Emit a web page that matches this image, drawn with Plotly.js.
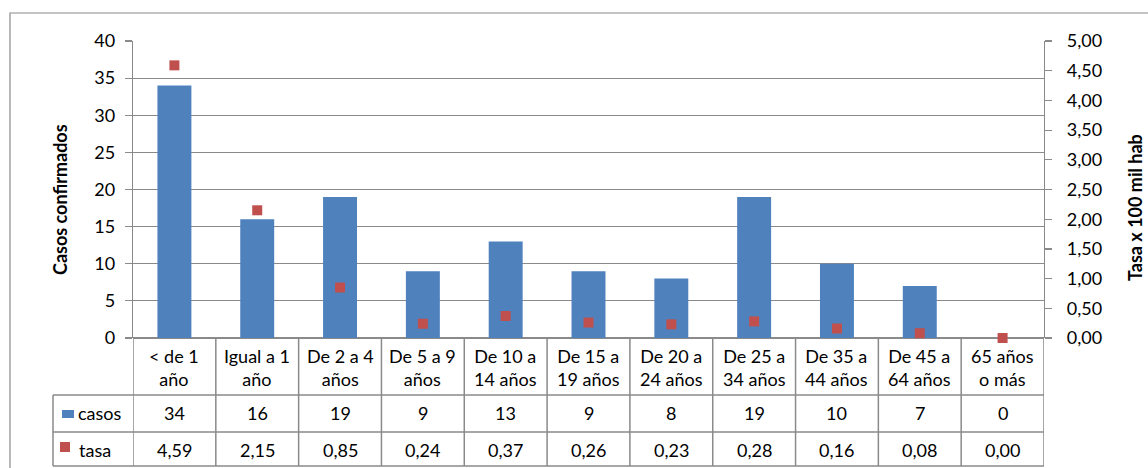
<!DOCTYPE html>
<html>
<head>
<meta charset="utf-8">
<script src="https://cdn.plot.ly/plotly-3.0.1.min.js"></script>
<style>html,body{margin:0;padding:0;background:#fff;}#chart{width:1148px;height:468px;}</style>
</head>
<body>
<div id="chart"></div>
<script>
const categories = ["< de 1 año", "Igual a 1 año", "De 2 a 4 años", "De 5 a 9 años", "De 10 a 14 años", "De 15 a 19 años", "De 20 a 24 años", "De 25 a 34 años", "De 35 a 44 años", "De 45 a 64 años", "65 años o más"];
const headerLabels = ["< de 1<br>año", "Igual a 1<br>año", "De 2 a 4<br>años", "De 5 a 9<br>años", "De 10 a<br>14 años", "De 15 a<br>19 años", "De 20 a<br>24 años", "De 25 a<br>34 años", "De 35 a<br>44 años", "De 45 a<br>64 años", "65 años<br>o más"];
const casos = [34, 16, 19, 9, 13, 9, 8, 19, 10, 7, 0];
const tasa = [4.59, 2.15, 0.85, 0.24, 0.37, 0.26, 0.23, 0.28, 0.16, 0.08, 0.00];
const leftTicks = [0, 5, 10, 15, 20, 25, 30, 35, 40];
const rightTicks = [0, 0.5, 1, 1.5, 2, 2.5, 3, 3.5, 4, 4.5, 5];
const seriesNames = ["casos", "tasa"];
const yTitleLeft = "Casos confirmados";
const yTitleRight = "Tasa x 100 mil hab";

const W = 1148, H = 468;
const L = 133, R = 1044, T = 41, B = 338;
const px = x => (x - L) / (R - L);
const py = y => (B - y) / (B - T);
const FONT = "Lato, 'Open Sans', sans-serif";
const FS = 18;
const gray = "#8a8a8a";
const fmt = v => v.toFixed(2).replace(".", ",");

const shapes = [];
// outer border
shapes.push({type: "rect", xref: "paper", yref: "paper", x0: px(10), x1: px(1170), y0: py(13), y1: py(490), line: {color: gray, width: 1.2}});
// table horizontal lines
[395, 432, 466].forEach(y => shapes.push({type: "line", xref: "paper", yref: "paper", x0: px(53), x1: px(R), y0: py(y), y1: py(y), line: {color: gray, width: 1.5}}));
// legend column left line
shapes.push({type: "line", xref: "paper", yref: "paper", x0: px(53), x1: px(53), y0: py(395), y1: py(466), line: {color: gray, width: 1.5}});
// column boundaries
for (let i = 0; i <= categories.length; i++) {
  shapes.push({type: "line", xref: "x", yref: "paper", x0: i - 0.5, x1: i - 0.5, y0: py(B), y1: py(466), line: {color: gray, width: 1.5}});
}
// legend keys
shapes.push({type: "rect", xref: "paper", yref: "paper", x0: px(62), x1: px(74), y0: py(410), y1: py(418), fillcolor: "#4F81BD", line: {width: 0}});
shapes.push({type: "rect", xref: "paper", yref: "paper", x0: px(60), x1: px(70), y0: py(442), y1: py(452), fillcolor: "#C0504D", line: {width: 0}});

const annotations = [];
categories.forEach((c, i) => {
  annotations.push({xref: "x", yref: "paper", x: i, y: py(367), text: headerLabels[i], showarrow: false, xanchor: "center", yanchor: "middle", font: {family: FONT, size: FS, color: "#000"}});
  annotations.push({xref: "x", yref: "paper", x: i, y: py(413), text: String(casos[i]), showarrow: false, xanchor: "center", yanchor: "middle", font: {family: FONT, size: FS, color: "#000"}});
  annotations.push({xref: "x", yref: "paper", x: i, y: py(450), text: fmt(tasa[i]), showarrow: false, xanchor: "center", yanchor: "middle", font: {family: FONT, size: FS, color: "#000"}});
});
annotations.push({xref: "paper", yref: "paper", x: px(76), y: py(413), text: seriesNames[0], showarrow: false, xanchor: "left", yanchor: "middle", font: {family: FONT, size: FS, color: "#000"}});
annotations.push({xref: "paper", yref: "paper", x: px(77), y: py(450), text: seriesNames[1], showarrow: false, xanchor: "left", yanchor: "middle", font: {family: FONT, size: FS, color: "#000"}});
annotations.push({xref: "paper", yref: "paper", x: px(60), y: py(200), text: "<b>" + yTitleLeft + "</b>", textangle: -90, showarrow: false, xanchor: "center", yanchor: "middle", font: {family: FONT, size: 18, color: "#000"}});
annotations.push({xref: "paper", yref: "paper", x: px(1135), y: py(208), text: "<b>" + yTitleRight + "</b>", textangle: -90, showarrow: false, xanchor: "center", yanchor: "middle", font: {family: FONT, size: 18, color: "#000"}});

const data = [
  {type: "bar", x: categories, y: casos, name: seriesNames[0], marker: {color: "#4F81BD"}, width: 0.41, hoverinfo: "y"},
  {type: "scatter", mode: "markers", x: categories, y: tasa, name: seriesNames[1], yaxis: "y2", marker: {color: "#C0504D", symbol: "square", size: 10}, cliponaxis: false}
];

const layout = {
  width: W, height: H,
  margin: {l: L, r: W - R, t: T, b: H - B, pad: 0},
  paper_bgcolor: "#fff", plot_bgcolor: "#fff",
  showlegend: false,
  separators: ",.",
  font: {family: FONT, size: FS, color: "#000"},
  xaxis: {type: "category", range: [-0.5, categories.length - 0.5], showticklabels: false, ticks: "", showgrid: false, zeroline: false, showline: false, fixedrange: true},
  yaxis: {range: [0, 40], tickvals: leftTicks, ticks: "outside", ticklen: 7, tickcolor: gray, tickwidth: 1.2, showline: true, linecolor: gray, linewidth: 1.2, showgrid: true, gridcolor: gray, gridwidth: 1.2, zeroline: true, zerolinecolor: gray, zerolinewidth: 1.2, tickfont: {family: FONT, size: FS, color: "#000"}, ticklabelstandoff: 6},
  yaxis2: {overlaying: "y", side: "right", range: [0, 5], tickvals: rightTicks, tickformat: ".2f", ticks: "outside", ticklen: 7, tickcolor: gray, tickwidth: 1.2, showline: true, linecolor: gray, linewidth: 1.2, showgrid: false, zeroline: false, tickfont: {family: FONT, size: FS, color: "#000"}, ticklabelstandoff: 11},
  shapes: shapes,
  annotations: annotations
};

Plotly.newPlot("chart", data, layout, {displayModeBar: false, staticPlot: true});
</script>
</body>
</html>
